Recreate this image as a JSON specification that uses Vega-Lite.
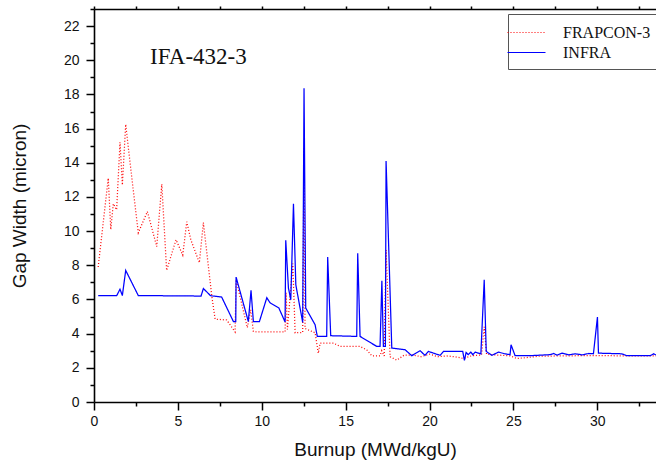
{
  "$schema": "https://vega.github.io/schema/vega-lite/v6.json",
  "width": 562,
  "height": 393,
  "autosize": {"type": "none"},
  "padding": {"left": 94, "top": 9, "right": 0, "bottom": 66},
  "background": "white",
  "config": {
    "view": {"stroke": null},
    "axis": {"grid": false, "domainColor": "#000", "domainWidth": 1.6, "tickColor": "#000", "tickWidth": 1.5, "labelFont": "Liberation Sans", "labelFontSize": 14, "labelColor": "#111", "titleFont": "Liberation Sans", "titleFontSize": 19, "titleFontWeight": "normal", "titleColor": "#111", "labelFlush": false, "labelOverlap": false}
  },
  "datasets": {
    "series": [
      {"s": "FRAPCON-3", "x": 0.25, "y": 7.9},
      {"s": "FRAPCON-3", "x": 0.85, "y": 13.1},
      {"s": "FRAPCON-3", "x": 1.0, "y": 10.1},
      {"s": "FRAPCON-3", "x": 1.15, "y": 11.6},
      {"s": "FRAPCON-3", "x": 1.35, "y": 11.25},
      {"s": "FRAPCON-3", "x": 1.55, "y": 15.2},
      {"s": "FRAPCON-3", "x": 1.69, "y": 12.7},
      {"s": "FRAPCON-3", "x": 1.89, "y": 16.25},
      {"s": "FRAPCON-3", "x": 2.15, "y": 14.0},
      {"s": "FRAPCON-3", "x": 2.64, "y": 9.9},
      {"s": "FRAPCON-3", "x": 3.18, "y": 11.15},
      {"s": "FRAPCON-3", "x": 3.74, "y": 9.1},
      {"s": "FRAPCON-3", "x": 4.04, "y": 12.75},
      {"s": "FRAPCON-3", "x": 4.33, "y": 7.7},
      {"s": "FRAPCON-3", "x": 4.89, "y": 9.5},
      {"s": "FRAPCON-3", "x": 5.29, "y": 8.6},
      {"s": "FRAPCON-3", "x": 5.53, "y": 10.55},
      {"s": "FRAPCON-3", "x": 5.77, "y": 9.5},
      {"s": "FRAPCON-3", "x": 6.28, "y": 8.15},
      {"s": "FRAPCON-3", "x": 6.52, "y": 10.5},
      {"s": "FRAPCON-3", "x": 7.02, "y": 6.2},
      {"s": "FRAPCON-3", "x": 7.22, "y": 4.85},
      {"s": "FRAPCON-3", "x": 7.91, "y": 4.8},
      {"s": "FRAPCON-3", "x": 8.41, "y": 4.1},
      {"s": "FRAPCON-3", "x": 8.47, "y": 7.15},
      {"s": "FRAPCON-3", "x": 9.14, "y": 4.35},
      {"s": "FRAPCON-3", "x": 9.34, "y": 5.4},
      {"s": "FRAPCON-3", "x": 9.5, "y": 4.13},
      {"s": "FRAPCON-3", "x": 9.7, "y": 4.1},
      {"s": "FRAPCON-3", "x": 11.39, "y": 4.1},
      {"s": "FRAPCON-3", "x": 11.45, "y": 6.4},
      {"s": "FRAPCON-3", "x": 11.53, "y": 4.25},
      {"s": "FRAPCON-3", "x": 11.85, "y": 8.1},
      {"s": "FRAPCON-3", "x": 11.99, "y": 4.05},
      {"s": "FRAPCON-3", "x": 12.44, "y": 4.07},
      {"s": "FRAPCON-3", "x": 12.52, "y": 14.9},
      {"s": "FRAPCON-3", "x": 12.58, "y": 4.3},
      {"s": "FRAPCON-3", "x": 13.18, "y": 4.05},
      {"s": "FRAPCON-3", "x": 13.37, "y": 2.85},
      {"s": "FRAPCON-3", "x": 13.48, "y": 3.45},
      {"s": "FRAPCON-3", "x": 14.27, "y": 3.45},
      {"s": "FRAPCON-3", "x": 14.67, "y": 3.25},
      {"s": "FRAPCON-3", "x": 15.86, "y": 3.25},
      {"s": "FRAPCON-3", "x": 16.26, "y": 3.05},
      {"s": "FRAPCON-3", "x": 16.56, "y": 2.7},
      {"s": "FRAPCON-3", "x": 17.05, "y": 2.7},
      {"s": "FRAPCON-3", "x": 17.15, "y": 3.0},
      {"s": "FRAPCON-3", "x": 17.3, "y": 2.7},
      {"s": "FRAPCON-3", "x": 17.41, "y": 8.9},
      {"s": "FRAPCON-3", "x": 17.65, "y": 2.65},
      {"s": "FRAPCON-3", "x": 18.05, "y": 2.45},
      {"s": "FRAPCON-3", "x": 18.5, "y": 2.75},
      {"s": "FRAPCON-3", "x": 19.0, "y": 2.75},
      {"s": "FRAPCON-3", "x": 19.5, "y": 2.65},
      {"s": "FRAPCON-3", "x": 20.0, "y": 2.8},
      {"s": "FRAPCON-3", "x": 20.5, "y": 2.65},
      {"s": "FRAPCON-3", "x": 21.0, "y": 2.7},
      {"s": "FRAPCON-3", "x": 21.5, "y": 2.65},
      {"s": "FRAPCON-3", "x": 22.02, "y": 2.55},
      {"s": "FRAPCON-3", "x": 22.5, "y": 2.7},
      {"s": "FRAPCON-3", "x": 23.1, "y": 2.75},
      {"s": "FRAPCON-3", "x": 23.26, "y": 4.4},
      {"s": "FRAPCON-3", "x": 23.4, "y": 2.8},
      {"s": "FRAPCON-3", "x": 24.0, "y": 2.75},
      {"s": "FRAPCON-3", "x": 24.8, "y": 2.7},
      {"s": "FRAPCON-3", "x": 25.2, "y": 2.55},
      {"s": "FRAPCON-3", "x": 25.8, "y": 2.6},
      {"s": "FRAPCON-3", "x": 26.5, "y": 2.68},
      {"s": "FRAPCON-3", "x": 28.0, "y": 2.7},
      {"s": "FRAPCON-3", "x": 30.0, "y": 2.72},
      {"s": "FRAPCON-3", "x": 31.5, "y": 2.7},
      {"s": "FRAPCON-3", "x": 33.5, "y": 2.7},
      {"s": "INFRA", "x": 0.25, "y": 6.23},
      {"s": "INFRA", "x": 1.35, "y": 6.22},
      {"s": "INFRA", "x": 1.55, "y": 6.6},
      {"s": "INFRA", "x": 1.69, "y": 6.23},
      {"s": "INFRA", "x": 1.89, "y": 7.7},
      {"s": "INFRA", "x": 2.64, "y": 6.23},
      {"s": "INFRA", "x": 6.38, "y": 6.2},
      {"s": "INFRA", "x": 6.52, "y": 6.64},
      {"s": "INFRA", "x": 6.95, "y": 6.22},
      {"s": "INFRA", "x": 7.61, "y": 6.14},
      {"s": "INFRA", "x": 8.31, "y": 4.71},
      {"s": "INFRA", "x": 8.45, "y": 4.71},
      {"s": "INFRA", "x": 8.47, "y": 7.31},
      {"s": "INFRA", "x": 9.2, "y": 4.71},
      {"s": "INFRA", "x": 9.36, "y": 6.53},
      {"s": "INFRA", "x": 9.5, "y": 4.71},
      {"s": "INFRA", "x": 9.86, "y": 4.71},
      {"s": "INFRA", "x": 10.3, "y": 6.1},
      {"s": "INFRA", "x": 10.5, "y": 5.8},
      {"s": "INFRA", "x": 11.02, "y": 5.5},
      {"s": "INFRA", "x": 11.39, "y": 4.68},
      {"s": "INFRA", "x": 11.43, "y": 9.47},
      {"s": "INFRA", "x": 11.59, "y": 6.67},
      {"s": "INFRA", "x": 11.73, "y": 5.98},
      {"s": "INFRA", "x": 11.89, "y": 11.6},
      {"s": "INFRA", "x": 12.03, "y": 6.86},
      {"s": "INFRA", "x": 12.44, "y": 4.66},
      {"s": "INFRA", "x": 12.52, "y": 18.36},
      {"s": "INFRA", "x": 12.62, "y": 5.5},
      {"s": "INFRA", "x": 13.18, "y": 4.52},
      {"s": "INFRA", "x": 13.31, "y": 3.84},
      {"s": "INFRA", "x": 13.87, "y": 3.84},
      {"s": "INFRA", "x": 13.93, "y": 8.48},
      {"s": "INFRA", "x": 14.11, "y": 3.88},
      {"s": "INFRA", "x": 15.66, "y": 3.84},
      {"s": "INFRA", "x": 15.72, "y": 8.71},
      {"s": "INFRA", "x": 15.86, "y": 3.84},
      {"s": "INFRA", "x": 16.86, "y": 3.25},
      {"s": "INFRA", "x": 17.05, "y": 3.25},
      {"s": "INFRA", "x": 17.16, "y": 7.09},
      {"s": "INFRA", "x": 17.25, "y": 3.25},
      {"s": "INFRA", "x": 17.37, "y": 3.25},
      {"s": "INFRA", "x": 17.41, "y": 14.1},
      {"s": "INFRA", "x": 17.75, "y": 3.16},
      {"s": "INFRA", "x": 18.54, "y": 3.06},
      {"s": "INFRA", "x": 18.94, "y": 2.71},
      {"s": "INFRA", "x": 19.44, "y": 3.0},
      {"s": "INFRA", "x": 19.73, "y": 2.73},
      {"s": "INFRA", "x": 19.93, "y": 2.96},
      {"s": "INFRA", "x": 20.63, "y": 2.73},
      {"s": "INFRA", "x": 20.83, "y": 2.96},
      {"s": "INFRA", "x": 21.98, "y": 2.96},
      {"s": "INFRA", "x": 22.08, "y": 2.43},
      {"s": "INFRA", "x": 22.18, "y": 2.9},
      {"s": "INFRA", "x": 22.31, "y": 2.77},
      {"s": "INFRA", "x": 22.46, "y": 2.92},
      {"s": "INFRA", "x": 22.58, "y": 2.77},
      {"s": "INFRA", "x": 22.72, "y": 2.92},
      {"s": "INFRA", "x": 23.06, "y": 2.82},
      {"s": "INFRA", "x": 23.26, "y": 7.15},
      {"s": "INFRA", "x": 23.38, "y": 2.96},
      {"s": "INFRA", "x": 23.72, "y": 2.73},
      {"s": "INFRA", "x": 24.11, "y": 2.92},
      {"s": "INFRA", "x": 24.5, "y": 2.82},
      {"s": "INFRA", "x": 24.8, "y": 2.77},
      {"s": "INFRA", "x": 24.86, "y": 3.35},
      {"s": "INFRA", "x": 25.1, "y": 2.71},
      {"s": "INFRA", "x": 26.0, "y": 2.71},
      {"s": "INFRA", "x": 27.2, "y": 2.77},
      {"s": "INFRA", "x": 27.4, "y": 2.84},
      {"s": "INFRA", "x": 27.6, "y": 2.74},
      {"s": "INFRA", "x": 27.9, "y": 2.86},
      {"s": "INFRA", "x": 28.3, "y": 2.76},
      {"s": "INFRA", "x": 28.7, "y": 2.82},
      {"s": "INFRA", "x": 29.1, "y": 2.76},
      {"s": "INFRA", "x": 29.5, "y": 2.84},
      {"s": "INFRA", "x": 29.77, "y": 2.82},
      {"s": "INFRA", "x": 30.01, "y": 4.97},
      {"s": "INFRA", "x": 30.07, "y": 2.86},
      {"s": "INFRA", "x": 31.46, "y": 2.82},
      {"s": "INFRA", "x": 31.76, "y": 2.71},
      {"s": "INFRA", "x": 33.15, "y": 2.71},
      {"s": "INFRA", "x": 33.36, "y": 2.82},
      {"s": "INFRA", "x": 33.5, "y": 2.75}
    ],
    "notes": [{"x": 3.34, "y": 20.2, "label": "IFA-432-3"}]
  },
  "layer": [
    {
      "data": {"name": "series"},
      "mark": {"type": "line", "strokeWidth": 1.25, "clip": true},
      "encoding": {
        "x": {
          "field": "x", "type": "quantitative",
          "scale": {"domain": [0, 33.5], "nice": false, "zero": false},
          "axis": {
            "orient": "bottom",
            "title": "Burnup (MWd/kgU)",
            "values": [0, 5, 10, 15, 20, 25, 30],
            "tickSize": 8,
            "labelPadding": 4,
            "labelOverlap": false,
            "titlePadding": 12
          }
        },
        "y": {
          "field": "y", "type": "quantitative",
          "scale": {"domain": [0, 23], "nice": false},
          "axis": {
            "title": "Gap Width (micron)",
            "values": [0, 2, 4, 6, 8, 10, 12, 14, 16, 18, 20, 22],
            "tickSize": 8,
            "labelPadding": 7,
            "labelOverlap": false,
            "titlePadding": 34
          }
        },
        "color": {
          "field": "s", "type": "nominal",
          "scale": {"domain": ["FRAPCON-3", "INFRA"], "range": ["#ff0000", "#0000ff"]},
          "legend": {
            "title": null, "orient": "none", "legendX": 414, "legendY": 5,
            "padding": 8, "fillColor": "#ffffff", "strokeColor": "#555555",
            "symbolType": "M-2,0H2", "symbolSize": 361, "symbolStrokeWidth": 1.2,
            "labelFont": "Liberation Serif", "labelFontSize": 16, "labelColor": "#111",
            "labelOffset": 26, "rowPadding": 1
          }
        },
        "strokeDash": {
          "field": "s", "type": "nominal",
          "scale": {"domain": ["FRAPCON-3", "INFRA"], "range": [[1, 2], [1, 0]]},
          "legend": {
            "title": null, "orient": "none", "legendX": 414, "legendY": 5,
            "padding": 8, "fillColor": "#ffffff", "strokeColor": "#555555",
            "symbolType": "M-2,0H2", "symbolSize": 361, "symbolStrokeWidth": 1.2,
            "labelFont": "Liberation Serif", "labelFontSize": 16, "labelColor": "#111",
            "labelOffset": 26, "rowPadding": 1
          }
        }
      }
    },
    {
      "data": {"name": "notes"},
      "mark": {"type": "text", "align": "left", "baseline": "middle", "font": "Liberation Serif", "fontSize": 23, "color": "#111"},
      "encoding": {
        "x": {
          "field": "x", "type": "quantitative",
          "axis": {
            "orient": "top", "title": null, "labels": false,
            "values": [0, 2.5, 5, 7.5, 10, 12.5, 15, 17.5, 20, 22.5, 25, 27.5, 30, 32.5],
            "tickSize": 3
          }
        },
        "y": {"field": "y", "type": "quantitative", "axis": null},
        "text": {"field": "label"}
      }
    },
    {
      "data": {"name": "notes"},
      "mark": {"type": "point", "opacity": 0},
      "encoding": {
        "x": {
          "field": "x", "type": "quantitative",
          "axis": {
            "orient": "bottom", "title": null, "labels": false, "domain": false,
            "values": [2.5, 7.5, 12.5, 17.5, 22.5, 27.5, 32.5],
            "tickSize": 4
          }
        },
        "y": {
          "field": "y", "type": "quantitative",
          "axis": {
            "orient": "left", "title": null, "labels": false, "domain": false,
            "values": [1, 3, 5, 7, 9, 11, 13, 15, 17, 19, 21, 23],
            "tickSize": 4
          }
        }
      }
    }
  ],
  "resolve": {"axis": {"x": "independent", "y": "independent"}}
}
